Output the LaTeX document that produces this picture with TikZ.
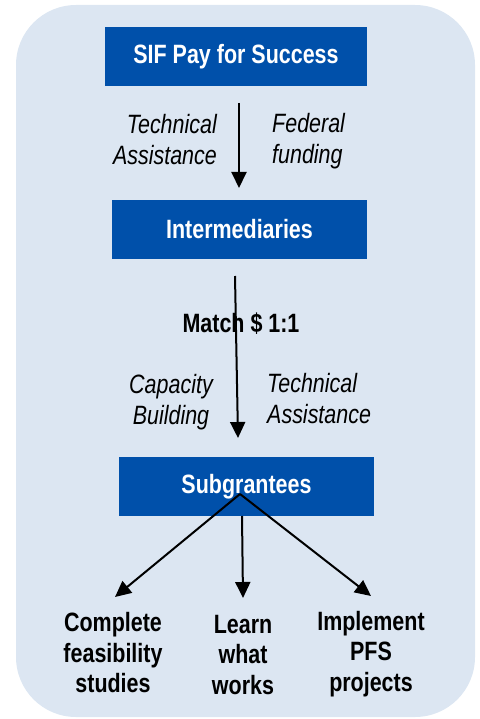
\documentclass[tikz,border=0pt]{standalone}
\usepackage{fontspec}
\setmainfont{Liberation Sans}[FakeStretch=0.81]
\usetikzlibrary{arrows.meta}
\definecolor{bgblue}{HTML}{DCE6F2}
\definecolor{boxblue}{HTML}{0050AA}
\begin{document}
\begin{tikzpicture}[x=1pt,y=-1pt,
  every node/.style={inner sep=0pt},
  lbl/.style={font=\fontsize{26.5}{31}\selectfont},
  bluebox/.style={fill=boxblue, text=white, font=\fontsize{26.5}{31}\selectfont\bfseries, minimum height=59pt},
  arr/.style={draw=black, line width=2pt, -{Triangle[width=15pt,length=16pt]}},
  ital/.style={lbl, font=\fontsize{26.5}{31}\selectfont\itshape},
  bold/.style={lbl, font=\fontsize{26.5}{30.5}\selectfont\bfseries, align=center}
]
\useasboundingbox (0,0) rectangle (479,719);
\fill[bgblue, rounded corners=60pt] (16,5) rectangle (475,717);

\node[bluebox, minimum width=262pt] (sif) at (236,56.5) {SIF Pay for Success};
\node[bluebox, minimum width=255pt] (int) at (239.5,229.5) {Intermediaries};
\node[bluebox, minimum width=255pt] (sub) at (246.5,486.5) {Subgrantees};

\node[ital, align=right, anchor=east] (ta1) at (217,140) {Technical\\Assistance};
\node[ital, align=left, anchor=west] (ff) at (272,141) {Federal\\funding};
\node[bold, anchor=base] (match) at (241,332) {Match \$ 1:1};
\node[ital, align=center] (cb) at (171,402) {Capacity\\Building};
\node[ital, align=left, anchor=west] (ta2) at (267,399) {Technical\\Assistance};

\node[bold] (cfs) at (113,653) {Complete\\feasibility\\studies};
\node[bold] (lww) at (243,655) {Learn\\what\\works};
\node[bold] (ipp) at (371,654) {Implement\\PFS\\projects};

\coordinate (a1s) at (239,103);
\coordinate (a1e) at (239,188);
\coordinate (a2s) at (235,276);
\coordinate (a2e) at (238,438);
\coordinate (hub) at (240,494);
\coordinate (midS) at (242,516);
\coordinate (t1) at (115,597);
\coordinate (t2) at (243,598);
\coordinate (t3) at (371,596);

\draw[arr] (a1s) -- (a1e);
\draw[arr] (a2s) -- (a2e);
\draw[arr] (hub) -- (t1);
\draw[arr] (midS) -- (t2);
\draw[arr] (hub) -- (t3);
\end{tikzpicture}
\end{document}
